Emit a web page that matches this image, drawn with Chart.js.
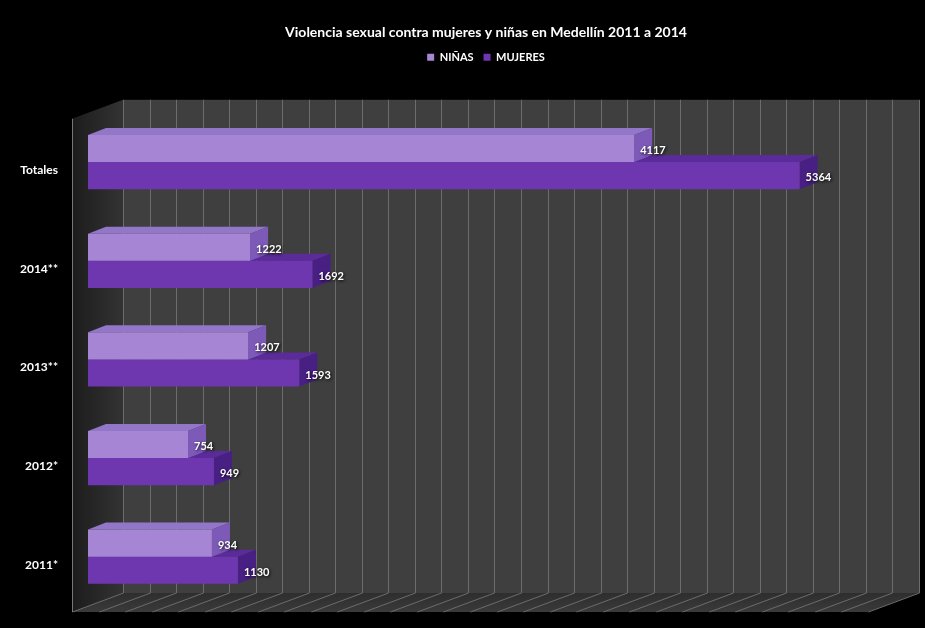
<!DOCTYPE html>
<html>
<head>
<meta charset="UTF-8">
<title>Violencia sexual contra mujeres y niñas en Medellín 2011 a 2014</title>
<script src="https://cdn.jsdelivr.net/npm/chart.js"></script>
<style>
  html, body { margin: 0; padding: 0; background: #000; }
</style>
</head>
<body>
<canvas id="myChart" width="925" height="628"></canvas>
<script>
// data
const categories = ['Totales', '2014**', '2013**', '2012*', '2011*'];
const seriesNames = ['NIÑAS', 'MUJERES'];
const ninas = [4117, 1222, 1207, 754, 934];
const mujeres = [5364, 1692, 1593, 949, 1130];
const axisMax = 6000;
const gridStep = 200;

// colours: front face, top face, right side face
const frontColors = ['#a686d4', '#6e37af'];
const topColors = ['#9277c8', '#5c2b9a'];
const sideColors = ['#7d5ab8', '#481f83'];

// fake 3D offsets (dx, dy) relative to the plane of the bar fronts
const BACK = [35, -13];
const FRONT = [-16, 6];
const BAR_DEPTH = [18, -7];

const box3d = {
  id: 'box3d',
  beforeDraw(chart) {
    const { ctx, chartArea: a, scales: { x } } = chart;
    const [bx, by] = BACK, [fx, fy] = FRONT;
    ctx.save();
    ctx.fillStyle = '#000';
    ctx.fillRect(0, 0, chart.width, chart.height);

    // back wall
    ctx.fillStyle = '#3f3f3f';
    ctx.fillRect(a.left + bx, a.top + by, a.right - a.left, a.bottom - a.top);

    // left wall
    let g = ctx.createLinearGradient(a.left + fx, 0, a.left + bx, 0);
    g.addColorStop(0, '#1c1c1c');
    g.addColorStop(1, '#333');
    ctx.fillStyle = g;
    ctx.beginPath();
    ctx.moveTo(a.left + fx, a.top + fy);
    ctx.lineTo(a.left + bx, a.top + by);
    ctx.lineTo(a.left + bx, a.bottom + by);
    ctx.lineTo(a.left + fx, a.bottom + fy);
    ctx.closePath();
    ctx.fill();

    // floor
    g = ctx.createLinearGradient(0, a.bottom + by, 0, a.bottom + fy);
    g.addColorStop(0, '#2e2e2e');
    g.addColorStop(1, '#3a3a3a');
    ctx.fillStyle = g;
    ctx.beginPath();
    ctx.moveTo(a.left + fx, a.bottom + fy);
    ctx.lineTo(a.left + bx, a.bottom + by);
    ctx.lineTo(a.right + bx, a.bottom + by);
    ctx.lineTo(a.right + fx, a.bottom + fy);
    ctx.closePath();
    ctx.fill();

    // grid lines on back wall and floor
    ctx.strokeStyle = '#6c6c6c';
    ctx.lineWidth = 1;
    x.ticks.forEach(t => {
      const px = Math.round(x.getPixelForValue(t.value)) + 0.5;
      ctx.beginPath();
      ctx.moveTo(px + bx, a.top + by);
      ctx.lineTo(px + bx, a.bottom + by);
      ctx.lineTo(px + fx, a.bottom + fy);
      ctx.stroke();
    });

    // front edge of left wall
    ctx.strokeStyle = '#777';
    ctx.beginPath();
    ctx.moveTo(a.left + fx + 0.5, a.top + fy);
    ctx.lineTo(a.left + fx + 0.5, a.bottom + fy);
    ctx.stroke();
    ctx.restore();
  },
  beforeDatasetsDraw(chart) {
    const ctx = chart.ctx;
    const [dx, dy] = BAR_DEPTH;
    ctx.save();
    for (let d = chart.data.datasets.length - 1; d >= 0; d--) {
      chart.getDatasetMeta(d).data.forEach(bar => {
        const { x: xe, y, base, height } = bar.getProps(['x', 'y', 'base', 'height'], true);
        const yt = y - height / 2, yb = y + height / 2;
        ctx.fillStyle = topColors[d];
        ctx.beginPath();
        ctx.moveTo(base, yt);
        ctx.lineTo(base + dx, yt + dy);
        ctx.lineTo(xe + dx, yt + dy);
        ctx.lineTo(xe, yt);
        ctx.closePath();
        ctx.fill();
        ctx.fillStyle = sideColors[d];
        ctx.beginPath();
        ctx.moveTo(xe, yt);
        ctx.lineTo(xe + dx, yt + dy);
        ctx.lineTo(xe + dx, yb + dy);
        ctx.lineTo(xe, yb);
        ctx.closePath();
        ctx.fill();
      });
    }
    ctx.restore();
  },
  afterDatasetsDraw(chart) {
    const ctx = chart.ctx;
    ctx.save();
    ctx.font = 'bold 11px Lato';
    ctx.fillStyle = '#fff';
    ctx.textAlign = 'left';
    ctx.textBaseline = 'middle';
    ctx.shadowColor = 'rgba(0,0,0,0.95)';
    ctx.shadowBlur = 3;
    ctx.shadowOffsetX = 1;
    ctx.shadowOffsetY = 1;
    chart.data.datasets.forEach((ds, d) => {
      chart.getDatasetMeta(d).data.forEach((bar, i) => {
        ctx.fillText(String(ds.data[i]), bar.x + 6, bar.y + 2);
      });
    });
    ctx.restore();
  }
};

const ctx = document.getElementById('myChart').getContext('2d');
new Chart(ctx, {
  type: 'bar',
  data: {
    labels: categories,
    datasets: [
      { label: seriesNames[0], data: ninas, backgroundColor: frontColors[0], borderWidth: 0 },
      { label: seriesNames[1], data: mujeres, backgroundColor: frontColors[1], borderWidth: 0 }
    ]
  },
  options: {
    indexAxis: 'y',
    responsive: false,
    animation: false,
    categoryPercentage: 0.55,
    barPercentage: 1,
    layout: { padding: { top: 0, left: 0, right: 41, bottom: 22 } },
    scales: {
      x: {
        position: 'top',
        min: 0,
        max: axisMax,
        ticks: { display: false, stepSize: gridStep },
        grid: { display: false, drawTicks: false },
        border: { display: false },
        afterFit: s => { s.height = 40; }
      },
      y: {
        grid: { display: false, drawTicks: false },
        border: { display: false },
        ticks: {
          color: '#fff',
          font: { family: 'Lato', size: 12, weight: 'bold' },
          padding: 30,
          labelOffset: 8
        },
        afterFit: s => {
          s.width = 88;
          s.paddingTop = 0;
          s.paddingBottom = 0;
        }
      }
    },
    plugins: {
      title: {
        display: true,
        fullSize: false,
        text: 'Violencia sexual contra mujeres y niñas en Medellín 2011 a 2014',
        color: '#fff',
        font: { family: 'Lato', size: 14, weight: 'bold' },
        padding: { top: 24, bottom: 1 }
      },
      legend: {
        fullSize: false,
        labels: {
          color: '#fff',
          font: { family: 'Lato', size: 11, weight: 'bold' },
          boxWidth: 7,
          boxHeight: 7,
          padding: 10
        }
      },
      tooltip: { enabled: false }
    }
  },
  plugins: [box3d]
});
</script>
</body>
</html>
